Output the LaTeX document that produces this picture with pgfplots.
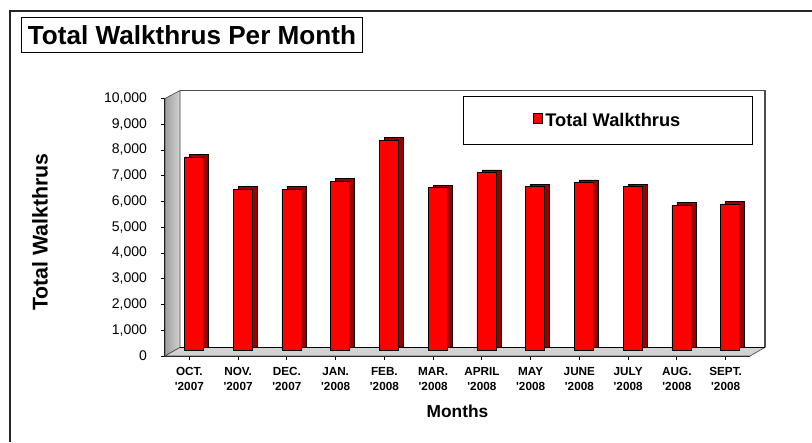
\documentclass[border=0pt]{standalone}
\usepackage{fontspec}
\setmainfont{Liberation Sans}
\usepackage{pgfplots}
\usepackage{pgfplotstable}
\pgfplotsset{compat=1.18}
\pgfplotstableread{
idx value
0 7500
1 6240
2 6240
3 6560
4 8150
5 6300
6 6890
7 6340
8 6500
9 6340
10 5620
11 5670
}\walkdata
\begin{document}
\begin{tikzpicture}
\path[use as bounding box] (0pt,0pt) rectangle (609pt,-331.5pt);
\begin{scope}[x=0.75pt,y=-0.75pt]
\draw[line width=1.2pt, black!85] (10,442) -- (10,11) -- (812,11);
\node[draw=black, line width=0.8pt, minimum width=255.75pt, minimum height=26.25pt, inner sep=0pt,
  font=\bfseries\fontsize{19.6}{22}\selectfont] at (192,35) {Total Walkthrus Per Month};
\end{scope}
\begin{axis}[
  at={(123.75pt,-267pt)}, anchor=south west,
  scale only axis, width=438.75pt, height=193.125pt,
  xmin=-0.5, xmax=11.5, ymin=0, ymax=10000,
  clip=false,
  axis x line*=bottom, axis y line*=left,
  axis line style={black, line width=0.9pt},
  tick align=outside, major tick length=3pt,
  tick style={black, line width=0.6pt},
  xtick={0,...,11},
  xticklabels={{OCT.\\\textquotesingle 2007},{NOV.\\\textquotesingle 2007},{DEC.\\\textquotesingle 2007},{JAN.\\\textquotesingle 2008},{FEB.\\\textquotesingle 2008},{MAR.\\\textquotesingle 2008},{APRIL\\\textquotesingle 2008},{MAY\\\textquotesingle 2008},{JUNE\\\textquotesingle 2008},{JULY\\\textquotesingle 2008},{AUG.\\\textquotesingle 2008},{SEPT.\\\textquotesingle 2008}},
  xticklabel style={align=center, font=\bfseries\fontsize{8.8}{11.25}\selectfont, yshift=-2pt},
  ytick={0,1000,...,10000},
  scaled y ticks=false,
  yticklabel style={font=\fontsize{10.5}{12}\selectfont, xshift=-7pt},
  /pgf/number format/1000 sep={,},
  /pgf/number format/assume math mode=true,
  xlabel={Months},
  xlabel style={at={(axis description cs:0.5,-0.2136)}, anchor=center, font=\bfseries\fontsize{13}{15}\selectfont},
  ylabel={Total Walkthrus},
  ylabel style={at={(axis description cs:-0.2137,0.4816)}, anchor=center, rotate=0, font=\bfseries\fontsize{16}{18}\selectfont},
  legend style={at={(axis description cs:0.757,0.9146)}, anchor=center, draw=black, line width=0.8pt, fill=white,
    inner xsep=52pt, inner ysep=10pt, font=\bfseries\fontsize{13.7}{16}\selectfont},
  legend cell align=left,
]
% left side wall
\shade[left color=gray!75, right color=gray!35, draw=gray!60!black, line width=0.5pt]
  (rel axis cs:0,0) -- (rel axis cs:0,1) -- ([xshift=11.25pt,yshift=6pt]rel axis cs:0,1)
  -- ([xshift=11.25pt,yshift=6.5pt]rel axis cs:0,0) -- cycle;
% floor
\fill[gray!35, draw=gray!60!black, line width=0.5pt]
  (rel axis cs:0,0) -- (rel axis cs:1,0) -- ([xshift=11.25pt,yshift=6.5pt]rel axis cs:1,0)
  -- ([xshift=11.25pt,yshift=6.5pt]rel axis cs:0,0) -- cycle;
% back wall outline
\draw[gray!60!black, line width=0.9pt]
  ([xshift=11.25pt,yshift=6pt]rel axis cs:0,1) -- ([xshift=11.25pt,yshift=6pt]rel axis cs:1,1)
  -- ([xshift=11.25pt,yshift=6.5pt]rel axis cs:1,0);
\draw[black, line width=0.8pt]
  ([xshift=11.25pt,yshift=6.5pt]rel axis cs:0,0) -- ([xshift=11.25pt,yshift=6.5pt]rel axis cs:1,0);
% bar depth (side and top)
\addplot[ybar, bar width=14.25pt, fill=red!60!black, draw=black, line width=0.5pt,
  xshift=7.15pt, yshift=6.5pt, forget plot] table[x=idx, y=value] {\walkdata};
% bar front
\addplot[ybar, bar width=14.25pt, fill=red, draw=black, line width=0.5pt,
  xshift=3.4pt, yshift=4.5pt,
  legend image code/.code={\draw[fill=red, draw=black, line width=0.5pt] (-1pt,-6.3pt) rectangle (6pt,0.7pt);}]
  table[x=idx, y=value] {\walkdata};
\addlegendentry{Total Walkthrus}
\end{axis}
\end{tikzpicture}
\end{document}
